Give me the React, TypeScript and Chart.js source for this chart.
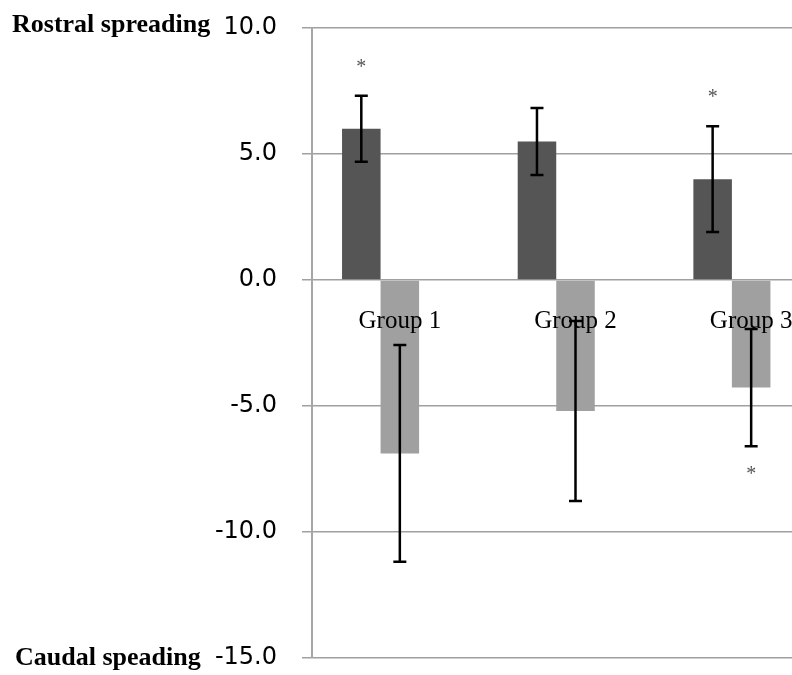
import React, { useEffect, useRef } from 'react';
import { Chart, registerables } from 'chart.js';

Chart.register(...registerables);

const categories = ['Group 1', 'Group 2', 'Group 3'];
const rostralValues = [6.0, 5.5, 4.0];
const rostralErrors = [1.31, 1.33, 2.1];
const caudalValues = [-6.88, -5.2, -4.27];
const caudalErrors = [4.3, 3.57, 2.33];
const emptySeries: (number | null)[] = [null, null, null];
const rostralStars: (number | null)[] = [8.67, null, 7.48];
const caudalStars: (number | null)[] = [null, null, -7.5];
const yTicks = [10, 5, 0, -5, -10, -15];
const topLabel = 'Rostral spreading';
const bottomLabel = 'Caudal speading';

const overlayPlugin = {
  id: 'overlay',
  afterDraw(chart: any) {
    const ctx = chart.ctx as CanvasRenderingContext2D;
    const y = chart.scales.y;
    ctx.save();
    const series: [number, number[], number[], (number | null)[]][] = [
      [0, rostralValues, rostralErrors, rostralStars],
      [1, caudalValues, caudalErrors, caudalStars],
    ];
    series.forEach(([di, vals, errs, stars]) => {
      const meta = chart.getDatasetMeta(di);
      meta.data.forEach((bar: any, i: number) => {
        const x = bar.x;
        const top = y.getPixelForValue(vals[i] + errs[i]);
        const bot = y.getPixelForValue(vals[i] - errs[i]);
        ctx.strokeStyle = '#000';
        ctx.lineWidth = 2.5;
        ctx.beginPath();
        ctx.moveTo(x, top);
        ctx.lineTo(x, bot);
        ctx.moveTo(x - 6.5, top);
        ctx.lineTo(x + 6.5, top);
        ctx.moveTo(x - 6.5, bot);
        ctx.lineTo(x + 6.5, bot);
        ctx.stroke();
        const s = stars[i];
        if (s !== null && s !== undefined) {
          const sy = y.getPixelForValue(s);
          ctx.fillStyle = '#555';
          ctx.font = '20px "Liberation Serif", serif';
          ctx.textAlign = 'center';
          ctx.textBaseline = 'alphabetic';
          ctx.fillText('*', x, sy + 11);
        }
      });
    });
    ctx.fillStyle = '#000';
    ctx.font = 'bold 26px "Liberation Serif", serif';
    ctx.textAlign = 'left';
    ctx.textBaseline = 'alphabetic';
    ctx.fillText(topLabel, 12, 32);
    ctx.fillText(bottomLabel, 15, 665);
    ctx.restore();
  },
};

const zeroPad = (s: any) => {
  s.paddingTop = 0;
  s.paddingBottom = 0;
  s.paddingLeft = 0;
  s.paddingRight = 0;
};

export default function App() {
  const ref = useRef<HTMLCanvasElement>(null);
  useEffect(() => {
    if (!ref.current) return;
    const chart = new Chart(ref.current, {
      type: 'bar',
      data: {
        labels: categories,
        datasets: [
          {
            label: 'Rostral',
            data: rostralValues,
            backgroundColor: '#555555',
            categoryPercentage: 0.658,
            barPercentage: 1,
          },
          {
            label: 'Caudal',
            data: caudalValues,
            backgroundColor: '#a0a0a0',
            categoryPercentage: 0.658,
            barPercentage: 1,
          },
          {
            label: '',
            data: emptySeries,
            backgroundColor: '#ffffff',
            categoryPercentage: 0.658,
            barPercentage: 1,
          },
        ],
      },
      options: {
        responsive: false,
        animation: false,
        devicePixelRatio: 1,
        layout: { padding: { top: 28, bottom: 17, left: 0, right: 0 } },
        plugins: { legend: { display: false }, tooltip: { enabled: false } },
        scales: {
          x: {
            type: 'category',
            position: { y: 0 } as any,
            offset: true,
            afterFit: (s: any) => {
              s.height = 0;
              zeroPad(s);
            },
            grid: { display: false, drawTicks: false },
            border: { display: false },
            ticks: {
              z: 1,
              padding: 26,
              color: '#000',
              maxRotation: 0,
              autoSkip: false,
              font: { family: '"Liberation Serif", serif', size: 25 },
            },
          },
          y: {
            type: 'linear',
            min: -15,
            max: 10,
            afterFit: (s: any) => {
              s.width = 312;
              zeroPad(s);
            },
            afterBuildTicks: (s: any) => {
              s.ticks = yTicks.map((v) => ({ value: v }));
            },
            ticks: {
              padding: 25,
              color: '#000',
              font: { family: '"DejaVu Sans", sans-serif', size: 24 },
              callback: (v: any) => Number(v).toFixed(1),
            },
            grid: { color: '#a0a0a0', lineWidth: 1.5, tickLength: 10 },
            border: { color: '#a6a6a6', width: 2 },
          },
        },
      },
      plugins: [overlayPlugin],
    });
    return () => chart.destroy();
  }, []);
  return (
    <div
      style={{
        position: 'absolute',
        left: 0,
        top: 0,
        width: 792,
        height: 675,
        overflow: 'hidden',
        background: '#fff',
      }}
    >
      <canvas ref={ref} width={839} height={675} style={{ display: 'block', width: 839, height: 675 }} />
    </div>
  );
}
